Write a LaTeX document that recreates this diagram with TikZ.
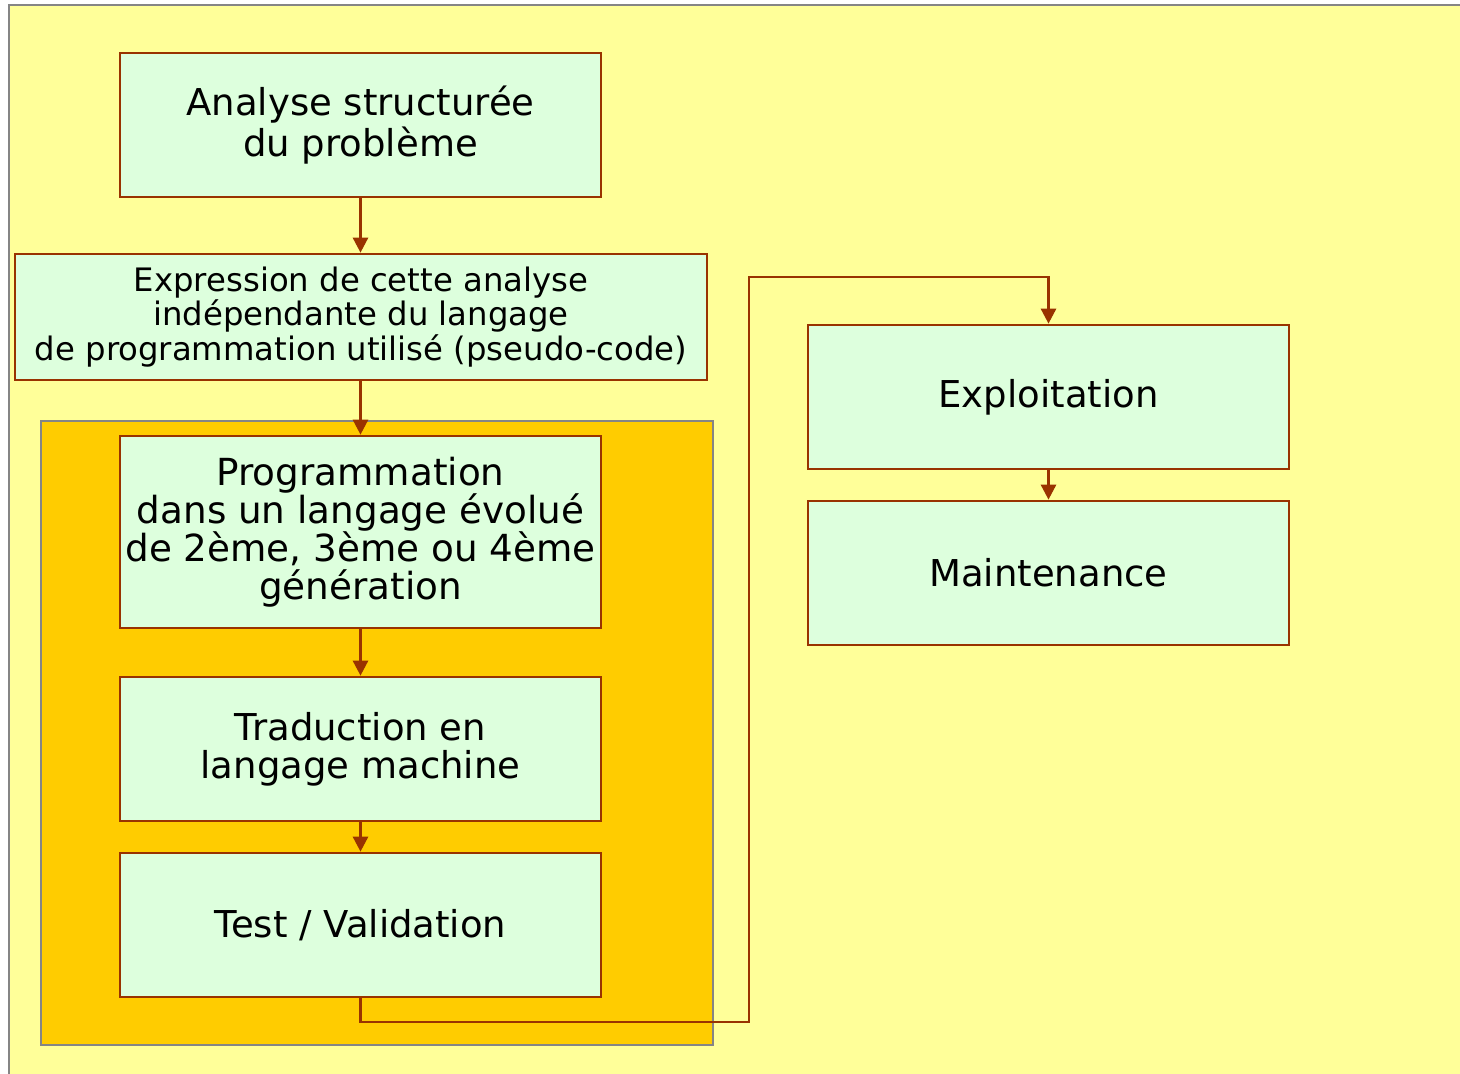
\documentclass[tikz,border=0pt]{standalone}
\usepackage{fontspec}
\setmainfont{DejaVu Sans}
\usetikzlibrary{arrows.meta}
\definecolor{bgyellow}{HTML}{FFFF99}
\definecolor{boxgreen}{HTML}{DDFFDD}
\definecolor{panelorange}{HTML}{FFCC00}
\definecolor{edgebrown}{HTML}{993300}
\definecolor{panelgray}{HTML}{858585}
\begin{document}
\begin{tikzpicture}[x=1pt,y=-1pt,
  stagebox/.style={draw=edgebrown, line width=2.7pt, fill=boxgreen, rectangle,
    inner sep=0pt, minimum width=481pt, align=center, text=black},
  flow/.style={draw=edgebrown, line width=2.7pt,
    -{Triangle[length=15pt,width=15pt]}}]
\useasboundingbox (0,0) rectangle (1460,1074);
% background
\fill[bgyellow] (8,4) rectangle (1470,1080);
\draw[panelgray, line width=2.2pt] (9,1080) -- (9,5) -- (1470,5);
% orange panel
\draw[panelgray, line width=2.2pt, fill=panelorange] (41,421) rectangle (713,1045);
% boxes
\node[stagebox, minimum height=144pt, font=\fontsize{37}{41}\selectfont] (b1) at (360.5,125)
  {Analyse structurée\\du problème};
\node[stagebox, minimum width=692pt, minimum height=126pt, font=\fontsize{32.3}{34.5}\selectfont] (b2) at (361,317)
  {Expression de cette analyse\\indépendante du langage\\de programmation utilisé (pseudo-code)};
\node[stagebox, minimum height=192pt, font=\fontsize{37.3}{38}\selectfont] (b3) at (360.5,532)
  {Programmation\\dans un langage évolué\\de 2ème, 3ème ou 4ème\\génération};
\node[stagebox, minimum height=144pt, font=\fontsize{37}{38}\selectfont] (b4) at (360.5,749)
  {Traduction en\\langage machine};
\node[stagebox, minimum height=144pt, font=\fontsize{37}{41}\selectfont] (b5) at (360.5,925)
  {Test / Validation};
\node[stagebox, minimum height=144pt, font=\fontsize{37}{41}\selectfont] (b6) at (1048.5,397)
  {Exploitation};
\node[stagebox, minimum height=144pt, font=\fontsize{37}{41}\selectfont] (b7) at (1048.5,573)
  {Maintenance};
% connectors
\draw[flow] (b1.south) -- (b2.north -| b1.south);
\draw[flow] (b2.south -| b3.north) -- (b3.north);
\draw[flow] (b3.south) -- (b4.north);
\draw[flow] (b4.south) -- (b5.north);
\coordinate (c1) at (749,1022);
\coordinate (c2) at (749,277);
\draw[flow] (b5.south) |- (c1) -- (c2) -| (b6.north);
\draw[flow] (b6.south) -- (b7.north);
\end{tikzpicture}
\end{document}
